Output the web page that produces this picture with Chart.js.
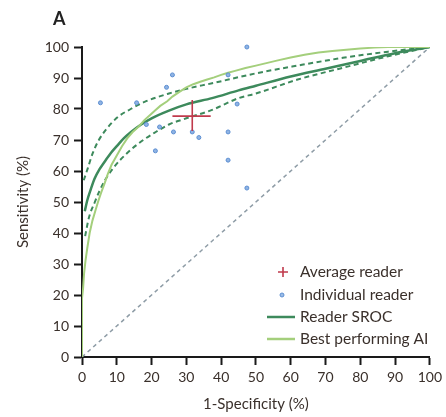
<!DOCTYPE html>
<html>
<head>
<meta charset="utf-8">
<script src="https://cdn.jsdelivr.net/npm/chart.js@4.4.0/dist/chart.umd.min.js"></script>
<style>
    html, body { margin: 0; padding: 0; background: #fff; }
</style>
</head>
<body>
<canvas id="rocChart" width="446" height="417"></canvas>
<script>
// ============= Data =============
const axisTicks = [0, 10, 20, 30, 40, 50, 60, 70, 80, 90, 100];

// Individual readers
const readerX = [5.3, 15.7, 26, 24.3, 42, 47.4, 44.6, 18.5, 22.3, 26.3, 31.7, 33.6, 42, 21.1, 42, 47.4];
const readerY = [82, 82, 91, 87, 91, 100, 81.6, 75, 74.2, 72.6, 72.6, 70.8, 72.6, 66.5, 63.5, 54.5];

// Average reader with ranges
const avgX = 31.7, avgY = 77.7;
const avgXRange = [26, 37];
const avgYRange = [72.9, 82.9];

// Reader SROC and its confidence band
const srocX = [0.8, 1.5, 2.5, 3.6, 5, 6.5, 8.3, 10, 12, 14, 17, 20, 25, 30, 37.4, 45, 50, 60, 70, 80, 90, 100];
const srocY = [47, 50.5, 54, 57.5, 60.5, 63, 65.8, 68, 70.5, 72.5, 75, 77, 79.5, 81.5, 83.5, 86, 87.5, 90.5, 93, 95.5, 98, 100];
const upperX = [0.5, 1.7, 3, 4.6, 7, 10.3, 14, 18, 25, 30, 37.4, 50, 62, 75, 88, 100];
const upperY = [57, 61, 65.5, 69.5, 73.5, 77.4, 80, 82.3, 85, 86.5, 88.3, 91.5, 94, 96.5, 98.5, 100];
const lowerX = [0.9, 2, 3.7, 5, 6.6, 9, 13, 17, 20.8, 25, 30, 37.4, 45, 50, 62, 74, 88, 100];
const lowerY = [39, 45, 50, 53.5, 57, 61, 65.8, 69.5, 72.3, 75, 77, 79.7, 83.5, 85, 89.5, 93, 97, 100];

// Best performing AI (jagged ROC)
const aiX = [0, 0, 0.3, 0.6, 1, 1.5, 2.2, 3, 3.8, 4.6, 5.5, 6.5, 7.4, 8.5, 10, 11.5, 13, 14.5, 16, 18,
    19.5, 21, 22.5, 24.5, 26, 28, 30, 32, 34, 36, 38, 40, 42, 44, 47, 50, 53, 56, 60, 64, 68, 72, 76, 80, 84, 88, 100];
const aiY = [0, 19, 22, 27, 31, 35, 40, 44, 47, 50, 53, 56, 59, 62, 65, 68, 70.5, 72.5, 74, 76.5,
    78, 79.5, 81, 82.5, 84, 85.5, 87, 88, 88.8, 89.5, 90.2, 91, 91.7, 92.3, 93.2, 94, 94.8, 95.6, 96.6, 97.5, 98.2, 98.7, 99.1, 99.5, 99.8, 100, 100];

// Chance line
const chanceX = [0, 100];
const chanceY = [0, 100];

// ============= Helpers =============
const toPoints = (xs, ys) => xs.map((x, i) => ({ x: x, y: ys[i] }));

const FONT = 'Lato, "Open Sans", sans-serif';
const TEXT = '#3a302b';
const SROC_GREEN = '#3d8a5c';
const AI_GREEN = '#a4cf7c';
const AVG_RED = '#c03a4c';
const DOT_BLUE = '#5d8fd2';

// Legend + panel letter, drawn on top of the chart
const overlayPlugin = {
    id: 'overlay',
    afterDraw(chart) {
        const ctx = chart.ctx;
        ctx.save();

        ctx.fillStyle = '#222';
        ctx.font = 'bold 18px ' + FONT;
        ctx.textAlign = 'left';
        ctx.textBaseline = 'alphabetic';
        ctx.fillText('A', 53, 25);

        const textX = 300;
        const rows = [272, 295, 317, 339];
        ctx.font = '15.5px ' + FONT;
        ctx.fillStyle = TEXT;
        ctx.textBaseline = 'middle';

        // Average reader
        ctx.strokeStyle = AVG_RED;
        ctx.lineWidth = 1.6;
        ctx.beginPath();
        ctx.moveTo(278, rows[0]); ctx.lineTo(288, rows[0]);
        ctx.moveTo(283, rows[0] - 5); ctx.lineTo(283, rows[0] + 5);
        ctx.stroke();
        ctx.fillText('Average reader', textX, rows[0]);

        // Individual reader
        ctx.beginPath();
        ctx.arc(282, rows[1], 2, 0, Math.PI * 2);
        ctx.fillStyle = '#9bbce6';
        ctx.fill();
        ctx.strokeStyle = DOT_BLUE;
        ctx.lineWidth = 1;
        ctx.stroke();
        ctx.fillStyle = TEXT;
        ctx.fillText('Individual reader', textX, rows[1]);

        // Reader SROC
        ctx.strokeStyle = SROC_GREEN;
        ctx.lineWidth = 2.5;
        ctx.beginPath();
        ctx.moveTo(267, rows[2]); ctx.lineTo(295, rows[2]);
        ctx.stroke();
        ctx.fillText('Reader SROC', textX, rows[2]);

        // Best performing AI
        ctx.strokeStyle = AI_GREEN;
        ctx.beginPath();
        ctx.moveTo(267, rows[3]); ctx.lineTo(295, rows[3]);
        ctx.stroke();
        ctx.fillText('Best performing AI', textX, rows[3]);

        ctx.restore();
    }
};

const lineSet = (data, color, width, extra) => Object.assign({
    data: data,
    showLine: true,
    borderColor: color,
    backgroundColor: color,
    borderWidth: width,
    pointRadius: 0,
    fill: false
}, extra || {});

const axisOptions = (title, isX) => ({
    type: 'linear',
    min: 0,
    max: 100,
    afterBuildTicks: scale => { scale.ticks = axisTicks.map(v => ({ value: v })); },
    afterFit: scale => {
        if (isX) scale.height = 60; else scale.width = 82;
    },
    ticks: { color: TEXT, font: { family: FONT, size: 14 }, padding: isX ? 4 : 5 },
    grid: { drawOnChartArea: false, drawTicks: true, tickLength: 8, tickColor: '#1a1a1a', tickWidth: 2 },
    border: { color: '#1a1a1a', width: 2 },
    title: {
        display: true,
        text: title,
        color: TEXT,
        font: { family: FONT, size: 15 },
        padding: isX ? { top: 0, bottom: 4 } : { top: 14, bottom: 0 }
    }
});

// ============= Chart =============
new Chart(document.getElementById('rocChart'), {
    type: 'scatter',
    data: {
        datasets: [
            lineSet([{ x: avgXRange[0], y: avgY }, { x: avgXRange[1], y: avgY }], AVG_RED, 1.6),
            lineSet([{ x: avgX, y: avgYRange[0] }, { x: avgX, y: avgYRange[1] }], AVG_RED, 1.6),
            {
                data: toPoints(readerX, readerY),
                pointRadius: 2,
                pointBackgroundColor: '#8fb3e3',
                pointBorderColor: DOT_BLUE,
                pointBorderWidth: 1,
                clip: 4
            },
            lineSet(toPoints(aiX, aiY), AI_GREEN, 2),
            lineSet(toPoints(srocX, srocY), SROC_GREEN, 2.5, { cubicInterpolationMode: 'monotone' }),
            lineSet(toPoints(upperX, upperY), SROC_GREEN, 2, { cubicInterpolationMode: 'monotone', borderDash: [5, 3.5] }),
            lineSet(toPoints(lowerX, lowerY), SROC_GREEN, 2, { cubicInterpolationMode: 'monotone', borderDash: [5, 3.5] }),
            lineSet(toPoints(chanceX, chanceY), '#8e9ca6', 1.5, { borderDash: [4, 3.5] })
        ]
    },
    options: {
        responsive: false,
        animation: false,
        events: [],
        layout: { padding: { left: 0, top: 47, right: 14, bottom: 0 } },
        plugins: { legend: { display: false }, tooltip: { enabled: false } },
        scales: {
            x: axisOptions('1-Specificity (%)', true),
            y: axisOptions('Sensitivity (%)', false)
        }
    },
    plugins: [overlayPlugin]
});
</script>
</body>
</html>
